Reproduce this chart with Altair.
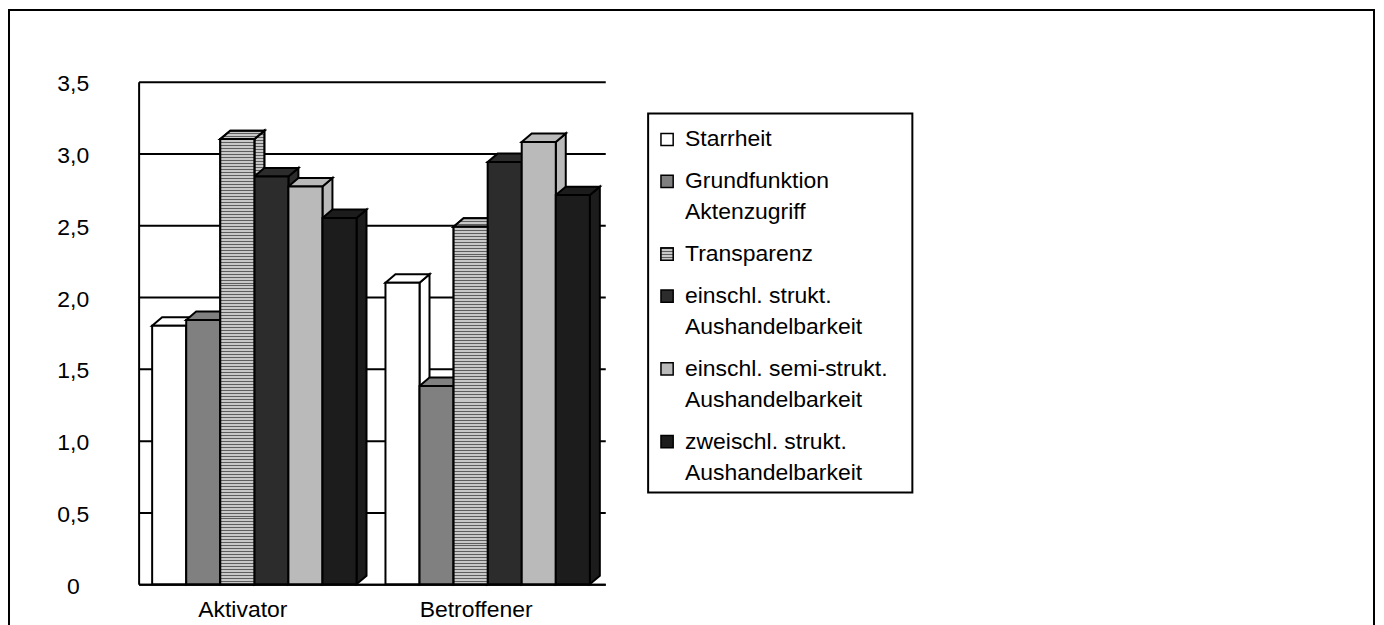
import json
import altair as alt
import pandas as pd

# ---------------- data ----------------
groups = ["Aktivator", "Betroffener"]
series = [
    "Starrheit",
    "Grundfunktion Aktenzugriff",
    "Transparenz",
    "einschl. strukt. Aushandelbarkeit",
    "einschl. semi-strukt. Aushandelbarkeit",
    "zweischl. strukt. Aushandelbarkeit",
]
legend_lines = [
    ["Starrheit"],
    ["Grundfunktion", "Aktenzugriff"],
    ["Transparenz"],
    ["einschl. strukt.", "Aushandelbarkeit"],
    ["einschl. semi-strukt.", "Aushandelbarkeit"],
    ["zweischl. strukt.", "Aushandelbarkeit"],
]
aktivator = [1.80, 1.84, 3.10, 2.84, 2.77, 2.55]
betroffener = [2.10, 1.38, 2.49, 2.94, 3.08, 2.71]
values_by_group = [aktivator, betroffener]
y_ticks = [0, 0.5, 1.0, 1.5, 2.0, 2.5, 3.0, 3.5]

# ---------------- styling / layout ----------------
colors = ["#ffffff", "#808080", "#a6a6a6", "#2c2c2c", "#bababa", "#1c1c1c"]
STRIPED = "Transparenz"          # series drawn with a horizontal-line pattern
STRIPE_DARK, STRIPE_LIGHT, STRIPE_PX, DARK_FRAC = "#5e5e5e", "#c8c8c8", 3.0, 1 / 3
FONT = "Liberation Sans"
W, H = 468, 504
YMAX = 3.5
GROUP_PAD = 0.058          # gap before first bar inside a category band (band = 1 unit)
BAR_W = 0.146              # width of one bar in band units
DX = 10.0 / W * 2          # depth offset (x), band units
DY = 8.5 / H * YMAX        # depth offset (y), value units


def stripes(px_height):
    n = max(1, round(px_height / STRIPE_PX))
    stops = []
    for k in range(n):
        a, m, b = k / n, (k + DARK_FRAC) / n, (k + 1) / n
        stops += [
            alt.GradientStop(offset=a, color=STRIPE_DARK),
            alt.GradientStop(offset=m, color=STRIPE_DARK),
            alt.GradientStop(offset=m, color=STRIPE_LIGHT),
            alt.GradientStop(offset=b, color=STRIPE_LIGHT),
        ]
    return alt.Gradient(gradient="linear", x1=0, y1=0, x2=0, y2=1, stops=stops)


xs = alt.Scale(domain=[0, len(groups)], nice=False, zero=False)
ys = alt.Scale(domain=[0, YMAX], nice=False, zero=True)
color = alt.Color("series:N", scale=alt.Scale(domain=series, range=colors), legend=None)

x_axis = alt.Axis(
    values=[i + 0.5 for i in range(len(groups))],
    labelExpr=f"{json.dumps(groups)}[floor(datum.value)]",
    grid=False, ticks=False, domain=True, domainColor="black", domainWidth=2,
    labelPadding=14, labelOffset=-13, labelFontSize=23, labelFont=FONT,
    labelColor="black", title=None,
)
y_axis = alt.Axis(
    values=y_ticks,
    labelExpr="datum.value == 0 ? '0' : replace(format(datum.value, '.1f'), '.', ',')",
    grid=True, gridColor="black", gridWidth=2, ticks=False,
    domain=True, domainColor="black", domainWidth=2,
    labelPadding=66, labelAlign="center", labelBaseline="middle", labelOffset=2,
    labelFontSize=23, labelFont=FONT, labelColor="black", title=None,
)

front_rows, side_rows, top_rows = [], [], []
for g, vals in enumerate(values_by_group):
    for s, v in enumerate(vals):
        x0 = g + GROUP_PAD + s * BAR_W
        x1 = x0 + BAR_W
        key = f"{g}-{s}"
        front_rows.append(dict(key=key, series=series[s], x0=x0, x1=x1, v=v, base=0.0))
        side_rows += [
            dict(key=key, series=series[s], sx=x1, top=v, bot=0.0),
            dict(key=key, series=series[s], sx=x1 + DX, top=v + DY, bot=DY),
        ]
        top_rows += [
            dict(key=key, series=series[s], ty=v, tx=x0, tx2=x1),
            dict(key=key, series=series[s], ty=v + DY, tx=x0 + DX, tx2=x1 + DX),
        ]

fronts_df = pd.DataFrame(front_rows)
sides_df = pd.DataFrame(side_rows)
tops_df = pd.DataFrame(top_rows)

sides = alt.Chart(sides_df).mark_area(stroke="black", strokeWidth=2, strokeJoin="miter").encode(
    x=alt.X("sx:Q", scale=xs, axis=x_axis),
    y=alt.Y("top:Q", scale=ys, axis=None),
    y2="bot:Q",
    detail="key:N",
    fill=color,
)
tops = alt.Chart(tops_df).mark_area(orient="horizontal", stroke="black", strokeWidth=2,
                                     strokeJoin="miter").encode(
    y=alt.Y("ty:Q", scale=ys, axis=None),
    x=alt.X("tx:Q", scale=xs, axis=x_axis),
    x2="tx2:Q",
    detail="key:N",
    fill=color,
)
fronts = alt.Chart(fronts_df).mark_rect(stroke="black", strokeWidth=2).encode(
    x=alt.X("x0:Q", scale=xs, axis=x_axis),
    x2="x1:Q",
    y=alt.Y("v:Q", scale=ys, axis=y_axis),
    y2="base:Q",
    fill=color,
)

# striped pattern overlays for the "Transparenz" bars (one layer per bar)
striped_sides, striped_tops, striped_fronts = [], [], []
for row in front_rows:
    if row["series"] != STRIPED:
        continue
    px = row["v"] / YMAX * H
    sdf = sides_df[sides_df["key"] == row["key"]]
    striped_sides.append(
        alt.Chart(sdf).mark_area(stroke="black", strokeWidth=2, strokeJoin="miter",
                                 fill=stripes(px + 8)).encode(
            x=alt.X("sx:Q", scale=xs, axis=x_axis),
            y=alt.Y("top:Q", scale=ys, axis=None),
            y2="bot:Q",
        )
    )
    tdf = tops_df[tops_df["key"] == row["key"]]
    striped_tops.append(
        alt.Chart(tdf).mark_area(orient="horizontal", stroke="black", strokeWidth=2,
                                 strokeJoin="miter", fill=stripes(8.5)).encode(
            y=alt.Y("ty:Q", scale=ys, axis=None),
            x=alt.X("tx:Q", scale=xs, axis=x_axis),
            x2="tx2:Q",
        )
    )
    fdf = fronts_df[fronts_df["key"] == row["key"]]
    striped_fronts.append(
        alt.Chart(fdf).mark_rect(stroke="black", strokeWidth=2, fill=stripes(px)).encode(
            x=alt.X("x0:Q", scale=xs, axis=x_axis),
            x2="x1:Q",
            y=alt.Y("v:Q", scale=ys, axis=None),
            y2="base:Q",
        )
    )

# ---------------- legend (built from the series lists) ----------------
LINE_STEP, ENTRY_STEP = 31, 42
leg_rows = []
pos = 0
for s, lines in enumerate(legend_lines):
    for j, txt in enumerate(lines):
        leg_rows.append(dict(series=series[s], text=txt, lpos=pos, first=(j == 0)))
        if j < len(lines) - 1:
            pos += LINE_STEP
    pos += ENTRY_STEP
leg_df = pd.DataFrame(leg_rows)
last = leg_df["lpos"].max()
ly = alt.Scale(domain=[0, last], range=[58, 58 + last], nice=False, zero=False)

one = pd.DataFrame({"k": [0]})
legend_box = alt.Chart(one).mark_rect(fill="white", stroke="black", strokeWidth=2).encode(
    x=alt.value(511), x2=alt.value(776), y=alt.value(32), y2=alt.value(412)
)
legend_sym = alt.Chart(leg_df[leg_df["first"]]).mark_square(
    size=150, stroke="black", strokeWidth=1.5, opacity=1
).encode(
    x=alt.value(530),
    y=alt.Y("lpos:Q", scale=ly, axis=None),
    fill=color,
)
legend_sym_striped = alt.Chart(
    leg_df[(leg_df["first"]) & (leg_df["series"] == STRIPED)]
).mark_square(size=150, stroke="black", strokeWidth=1.5, opacity=1,
              fill=stripes(12)).encode(
    x=alt.value(530),
    y=alt.Y("lpos:Q", scale=ly, axis=None),
)
legend_txt = alt.Chart(leg_df).mark_text(
    align="left", baseline="middle", fontSize=23, font=FONT, color="black"
).encode(
    x=alt.value(548),
    y=alt.Y("lpos:Q", scale=ly, axis=None),
    text="text:N",
)

frame = alt.Chart(one).mark_rect(fillOpacity=0, stroke="black", strokeWidth=2).encode(
    x=alt.value(-130), x2=alt.value(1239), y=alt.value(-72), y2=alt.value(700)
)

chart = (
    alt.layer(frame, sides, *striped_sides, tops, *striped_tops, fronts, *striped_fronts,
              legend_box, legend_sym, legend_sym_striped, legend_txt)
    .resolve_scale(y="independent")
    .properties(
        width=W, height=H,
        autosize=alt.AutoSizeParams(type="none"),
        padding={"left": 131, "top": 73, "right": 773, "bottom": 40},
        background="white",
    )
    .configure_view(stroke=None)
)

chart.save("out.html", embed_options={"renderer": "svg", "actions": False})
